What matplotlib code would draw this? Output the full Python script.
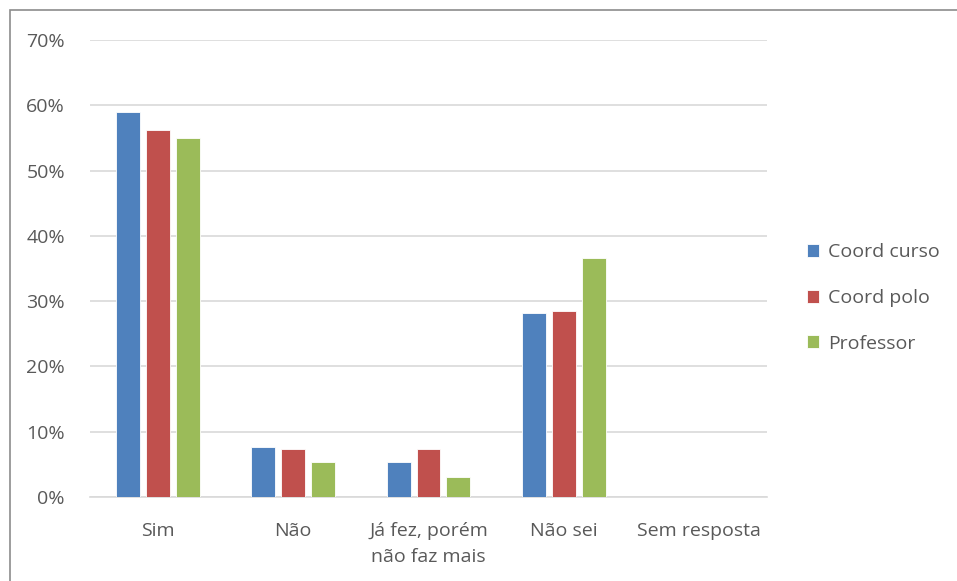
import matplotlib.pyplot as plt
import matplotlib.patches as mpatches
import numpy as np
from matplotlib.ticker import FuncFormatter

plt.rcParams['font.family'] = ['Open Sans', 'DejaVu Sans']

# data (percent)
categories = ['Sim', 'Não', 'Já fez, porém\nnão faz mais', 'Não sei', 'Sem resposta']
coord_curso = [59.0, 7.7, 5.4, 28.2, 0.0]
coord_polo = [56.2, 7.4, 7.4, 28.5, 0.0]
professor = [55.0, 5.4, 3.1, 36.6, 0.0]
series_names = ['Coord curso', 'Coord polo', 'Professor']
colors = ['#4F81BD', '#C0504D', '#9BBB59']

fig = plt.figure(figsize=(9.57, 5.81), dpi=100)
ax = fig.add_axes([90 / 957, 1 - 497 / 581, 677 / 957, 457 / 581])

# outer chart border
fig.patches.append(mpatches.Rectangle((10 / 957, -0.05), 1.1, 1 - 10 / 581 + 0.05,
                                      transform=fig.transFigure, fill=False,
                                      edgecolor='#8c8c8c', linewidth=1.2))

x = np.arange(len(categories))
width = 0.177
step = 0.221
for i, (vals, name, c) in enumerate(zip([coord_curso, coord_polo, professor], series_names, colors)):
    ax.bar(x + (i - 1) * step, vals, width, color=c, edgecolor='white',
           linewidth=0.6, label=name, zorder=3)

ax.set_xlim(-0.5, len(categories) - 0.5)
ax.set_ylim(0, 70)
ax.set_yticks(np.arange(0, 71, 10))
ax.yaxis.set_major_formatter(FuncFormatter(lambda v, p: f'{v:.0f}%'))
ax.grid(axis='y', color='#d9d9d9', linewidth=1.2, zorder=0)
for s in ['top', 'right', 'left']:
    ax.spines[s].set_visible(False)
ax.spines['bottom'].set_color('#d9d9d9')
ax.spines['bottom'].set_linewidth(1.2)
ax.tick_params(axis='both', length=0, labelsize=14, labelcolor='#595959')
ax.tick_params(axis='y', pad=18)
ax.tick_params(axis='x', pad=18)
ax.set_xticks(x)
ax.set_xticklabels(categories, linespacing=1.55)

leg = fig.legend(loc='center left', bbox_to_anchor=(789 / 957, 1 - 298 / 581),
                 frameon=False, fontsize=14, handlelength=0.65, handleheight=0.65,
                 labelspacing=1.42, handletextpad=0.45)
for t in leg.get_texts():
    t.set_color('#595959')

fig.savefig('out.png', dpi=100)
